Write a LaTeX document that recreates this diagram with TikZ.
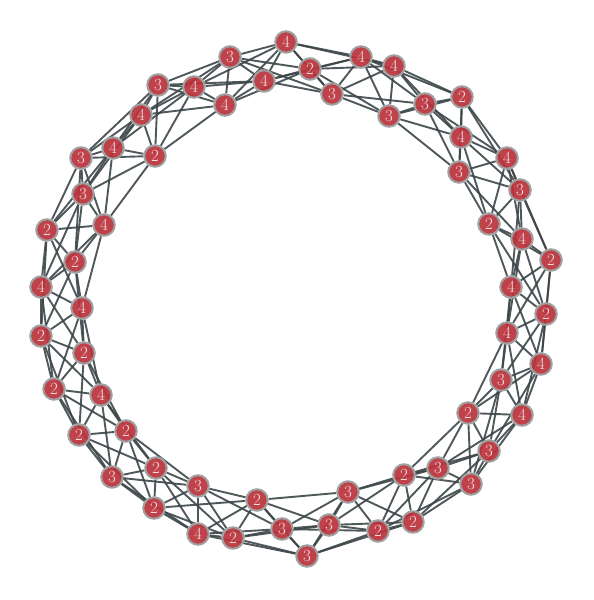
\documentclass[tikz,border=0pt]{standalone}
\usepackage{fontspec}
\usetikzlibrary{backgrounds}
\definecolor{nodefill}{RGB}{186,50,60}
\definecolor{nodeline}{RGB}{160,160,160}
\definecolor{edgecol}{RGB}{60,70,72}
\definecolor{txtcol}{RGB}{242,220,220}
\begin{document}
\begin{tikzpicture}[x=1pt,y=-1pt,
  vtx/.style={circle,inner sep=0pt,minimum size=21.5pt,fill=nodefill,fill opacity=0.92,text opacity=1,draw=nodeline,line width=2pt,text=txtcol,font=\fontsize{17}{17}\selectfont},
  edg/.style={draw=edgecol,line width=1.9pt,opacity=0.9}]
\useasboundingbox (0,0) rectangle (594,600);
\foreach \i/\x/\y/\l in {0/286/42/4,1/310/69/2,2/332/94/3,3/361/57/4,4/394/66/4,5/389/116/3,6/425/104/3,7/462/97/2,8/461/137/4,9/459/172/3,10/507/158/4,11/520/190/3,12/489/224/2,13/522/239/4,14/551/260/2,15/511/287/4,16/546/314/2,17/507/333/4,18/541/364/4,19/501/380/3,20/522/415/4,21/468/413/2,22/489/451/3,23/471/484/3,24/438/468/3,25/404/475/2,26/413/522/2,27/378/531/2,28/348/492/3,29/329/525/3,30/307/556/3,31/282/529/3,32/257/500/2,33/233/538/2,34/198/534/4,35/198/486/3,36/154/508/2,37/156/468/2,38/112/477/3,39/126/431/2,40/79/435/2,41/101/395/4,42/54/389/2,43/84/353/2,44/41/336/2,45/82/308/4,46/41/287/4,47/75/262/2,48/47/230/2,49/104/225/4,50/83/194/3,51/81/158/3,52/113/148/4,53/155/156/2,54/141/115/4,55/158/85/3,56/194/87/4,57/225/105/4,58/230/57/3,59/264/81/4}
  \node[vtx] (n\i) at (\x,\y) {\l};
\begin{pgfonlayer}{background}
\foreach \i in {0,...,59}{
  \foreach \k in {1,...,4}{
    \pgfmathtruncatemacro\j{mod(\i+\k,60)}
    \draw[edg] (n\i) -- (n\j);
  }
}
\end{pgfonlayer}
\end{tikzpicture}
\end{document}
